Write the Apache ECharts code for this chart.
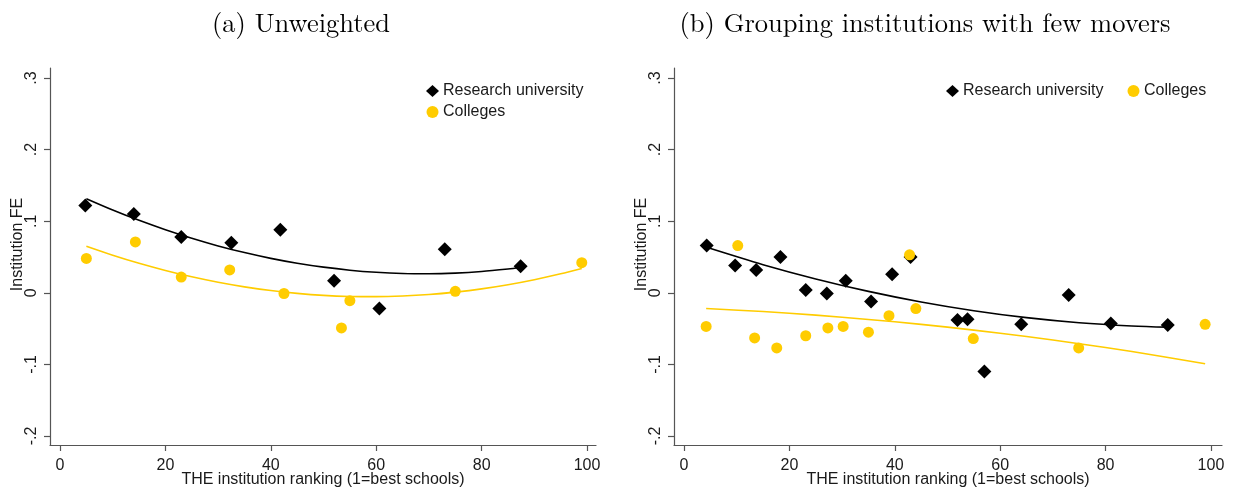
<!DOCTYPE html>
<html>
<head>
<meta charset="utf-8">
<script src="https://cdn.jsdelivr.net/npm/echarts@6/dist/echarts.min.js"></script>
<style>
html,body{margin:0;padding:0;background:#fff;}
#chart{width:1233px;height:491px;}
</style>
</head>
<body>
<div id="chart"></div>
<script>
// ---- Data ----
const panelTitles = ['(a) Unweighted', '(b) Grouping institutions with few movers'];
const xTickValues = [0, 20, 40, 60, 80, 100];
const yTickValues = [0.3, 0.2, 0.1, 0, -0.1, -0.2];
const yTickLabels = ['.3', '.2', '.1', '0', '-.1', '-.2'];
const xAxisTitle = 'THE institution ranking (1=best schools)';
const yAxisTitle = 'Institution FE';
const seriesNames = ['Research university', 'Colleges'];

// Panel (a)
const aResearchX = [4.8, 14.0, 23.0, 32.5, 41.8, 52.0, 60.6, 73.0, 87.4];
const aResearchY = [0.122, 0.110, 0.078, 0.070, 0.088, 0.017, -0.022, 0.061, 0.037];
const aCollegeX  = [5.0, 14.3, 23.0, 32.2, 42.5, 53.4, 55.0, 75.0, 99.0];
const aCollegeY  = [0.048, 0.071, 0.022, 0.032, -0.001, -0.049, -0.011, 0.002, 0.042];
const aResearchFitX = [5, 10, 15, 20, 25, 30, 35, 40, 45, 50, 55, 60, 65, 70, 75, 80, 85, 87.4];
const aResearchFitY = [0.1315, 0.1157, 0.1012, 0.0881, 0.0762, 0.0655, 0.0562, 0.0481, 0.0413, 0.0358, 0.0316, 0.0287, 0.0270, 0.0266, 0.0275, 0.0297, 0.0332, 0.0353];
const aCollegeFitX  = [5, 10, 15, 20, 25, 30, 35, 40, 45, 50, 55, 60, 65, 70, 75, 80, 85, 90, 95, 99];
const aCollegeFitY  = [0.0650, 0.0525, 0.0412, 0.0312, 0.0223, 0.0147, 0.0083, 0.0031, -0.0008, -0.0036, -0.0051, -0.0054, -0.0045, -0.0024, 0.0010, 0.0055, 0.0113, 0.0183, 0.0265, 0.0340];

// Panel (b)
const bResearchX = [4.3, 9.7, 13.7, 18.3, 23.1, 27.1, 30.7, 35.5, 39.5, 43.0, 51.9, 53.8, 57.0, 64.0, 73.0, 81.0, 91.8];
const bResearchY = [0.066, 0.038, 0.032, 0.050, 0.004, -0.001, 0.017, -0.012, 0.026, 0.050, -0.038, -0.037, -0.110, -0.044, -0.003, -0.043, -0.045];
const bCollegeX  = [4.2, 10.2, 13.4, 17.6, 23.1, 27.3, 30.2, 35.0, 38.9, 42.8, 44.0, 54.9, 74.9, 98.9];
const bCollegeY  = [-0.047, 0.066, -0.063, -0.077, -0.060, -0.049, -0.047, -0.055, -0.032, 0.053, -0.022, -0.064, -0.077, -0.044];
const bResearchFitX = [4.3, 15, 25, 35, 45, 55, 65, 75, 85, 91.8];
const bResearchFitY = [0.0635, 0.0393, 0.0194, 0.0020, -0.0128, -0.0250, -0.0347, -0.0418, -0.0463, -0.0480];
const bCollegeFitX  = [4.2, 15, 25, 35, 45, 55, 65, 75, 85, 98.9];
const bCollegeFitY  = [-0.0220, -0.0262, -0.0312, -0.0372, -0.0441, -0.0521, -0.0611, -0.0711, -0.0821, -0.0990];

// ---- Build ----
const zip = (xs, ys) => xs.map((x, i) => [x, ys[i]]);
const BLACK = '#000000';
const GOLD = '#FFCC00';
const AXIS = '#555555';
const TEXT = '#1a1a1a';
const SANS = '"Liberation Sans", Arial, sans-serif';
const SERIF = '"Latin Modern Roman", "Liberation Serif", "DejaVu Serif", serif';

function xAxisCfg(gridIndex, max) {
  return {
    type: 'value', gridIndex: gridIndex, min: -1.9, max: max,
    name: xAxisTitle, nameLocation: 'middle', nameGap: 27, nameMoveOverlap: false,
    nameTextStyle: { fontFamily: SANS, fontSize: 16, color: TEXT },
    axisLine: { show: true, onZero: false, lineStyle: { color: AXIS, width: 1.2 } },
    axisTick: { show: true, length: 6, customValues: xTickValues, lineStyle: { color: AXIS, width: 1.2 } },
    axisLabel: { customValues: xTickValues, margin: 13, fontFamily: SANS, fontSize: 16, color: TEXT },
    splitLine: { show: false }
  };
}
function yAxisCfg(gridIndex) {
  return {
    type: 'value', gridIndex: gridIndex, min: -0.2126, max: 0.314,
    name: yAxisTitle, nameLocation: 'middle', nameGap: 24, nameRotate: 90, nameMoveOverlap: false,
    nameTextStyle: { fontFamily: SANS, fontSize: 16, color: TEXT, padding: [0, 0, 0, 24] },
    axisLine: { show: true, onZero: false, lineStyle: { color: AXIS, width: 1.2 } },
    axisTick: { show: true, length: 6, customValues: yTickValues, lineStyle: { color: AXIS, width: 1.2 } },
    axisLabel: {
      customValues: yTickValues, rotate: 90, margin: 10, fontFamily: SANS, fontSize: 16, color: TEXT,
      formatter: function (v) {
        const i = yTickValues.findIndex(t => Math.abs(t - v) < 1e-9);
        return i >= 0 ? yTickLabels[i] : '';
      }
    },
    splitLine: { show: false }
  };
}
function scatter(name, xi, data, symbol, size, color) {
  return { type: 'scatter', name: name, xAxisIndex: xi, yAxisIndex: xi, data: data,
    symbol: symbol, symbolSize: size, itemStyle: { color: color, opacity: 1 }, z: 3, silent: true };
}
function fitLine(name, xi, data, color) {
  return { type: 'line', name: name, xAxisIndex: xi, yAxisIndex: xi, data: data, smooth: 0.3,
    showSymbol: false, symbol: 'none', lineStyle: { color: color, width: 1.6 }, z: 2, silent: true };
}

const option = {
  animation: false,
  backgroundColor: '#ffffff',
  title: [
    { text: panelTitles[0], left: 296, top: 5, textAlign: 'center',
      textStyle: { fontFamily: SERIF, fontSize: 26.5, fontWeight: 'normal', color: '#000' } },
    { text: panelTitles[1], left: 920, top: 5, textAlign: 'center',
      textStyle: { fontFamily: SERIF, fontSize: 26.5, fontWeight: 'normal', color: '#000' } }
  ],
  legend: [
    { data: [{ name: seriesNames[0], icon: 'diamond' }, { name: seriesNames[1], icon: 'circle' }],
      orient: 'vertical', left: 421, top: 78, itemWidth: 13, itemHeight: 12, itemGap: 5,
      textStyle: { fontFamily: SANS, fontSize: 16, color: TEXT, padding: [0, 0, 0, -1] }, selectedMode: false },
    { data: [{ name: seriesNames[0], icon: 'diamond' }, { name: seriesNames[1], icon: 'circle' }],
      orient: 'horizontal', left: 941, top: 78, itemWidth: 13, itemHeight: 12, itemGap: 24,
      textStyle: { fontFamily: SANS, fontSize: 16, color: TEXT, padding: [0, 0, 0, -1] }, selectedMode: false }
  ],
  grid: [
    { left: 50, top: 68, width: 546, height: 377, outerBoundsMode: 'none', containLabel: false },
    { left: 674, top: 68, width: 548, height: 377, outerBoundsMode: 'none', containLabel: false }
  ],
  xAxis: [xAxisCfg(0, 101.7), xAxisCfg(1, 102.1)],
  yAxis: [yAxisCfg(0), yAxisCfg(1)],
  series: [
    fitLine('fitA_r', 0, zip(aResearchFitX, aResearchFitY), BLACK),
    fitLine('fitA_c', 0, zip(aCollegeFitX, aCollegeFitY), GOLD),
    scatter(seriesNames[0], 0, zip(aResearchX, aResearchY), 'diamond', 14, BLACK),
    scatter(seriesNames[1], 0, zip(aCollegeX, aCollegeY), 'circle', 11, GOLD),
    fitLine('fitB_r', 1, zip(bResearchFitX, bResearchFitY), BLACK),
    fitLine('fitB_c', 1, zip(bCollegeFitX, bCollegeFitY), GOLD),
    scatter(seriesNames[0], 1, zip(bResearchX, bResearchY), 'diamond', 14, BLACK),
    scatter(seriesNames[1], 1, zip(bCollegeX, bCollegeY), 'circle', 11, GOLD)
  ]
};

const chart = echarts.init(document.getElementById('chart'), null, { renderer: 'canvas' });
chart.setOption(option);
</script>
</body>
</html>
